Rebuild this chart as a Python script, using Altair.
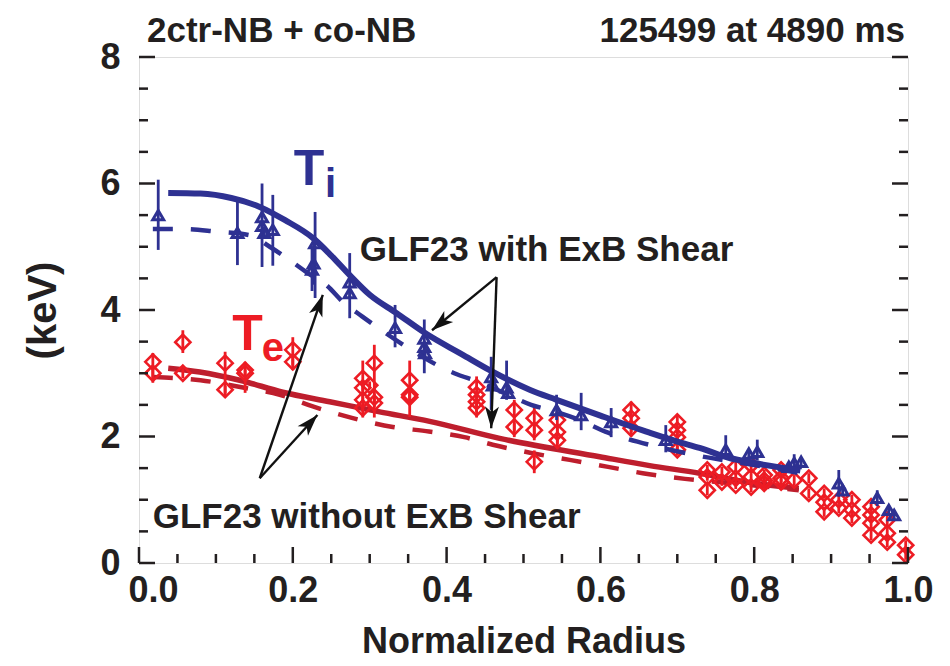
import math
import altair as alt
import pandas as pd

# ---------------- data ----------------
# Ti measurements (normalized radius, keV, error low, error high)
ti_x = [0.025, 0.128, 0.160, 0.160, 0.163, 0.174, 0.229, 0.227, 0.225, 0.274, 0.274,
        0.333, 0.371, 0.371, 0.372, 0.458, 0.460, 0.478, 0.480, 0.543, 0.575, 0.614,
        0.685, 0.763, 0.793, 0.804, 0.845, 0.852, 0.861, 0.910, 0.915, 0.960, 0.975, 0.982]
ti_y = [5.50, 5.22, 5.47, 5.33, 5.22, 5.27, 5.06, 4.74, 4.64, 4.44, 4.27,
        3.72, 3.55, 3.42, 3.32, 2.94, 2.81, 2.78, 2.69, 2.42, 2.34, 2.23,
        1.95, 1.79, 1.73, 1.76, 1.52, 1.58, 1.60, 1.26, 1.15, 1.03, 0.84, 0.76]
ti_lo = [4.95, 4.71, 4.68, 5.25, 5.15, 4.70, 4.19, 4.40, 4.30, 3.87, 4.20,
         3.41, 3.00, 3.35, 3.25, 2.42, 2.74, 2.58, 2.62, 2.26, 2.10, 1.99,
         1.75, 1.68, 1.66, 1.62, 1.45, 1.45, 1.53, 1.05, 1.08, 0.90, 0.77, 0.69]
ti_hi = [6.06, 5.71, 6.00, 5.40, 5.29, 5.82, 5.55, 5.10, 5.00, 4.90, 4.34,
         4.08, 3.85, 3.49, 3.39, 3.26, 2.88, 3.20, 2.76, 2.66, 2.69, 2.45,
         2.18, 2.02, 1.80, 1.95, 1.59, 1.72, 1.67, 1.47, 1.22, 1.15, 0.91, 0.83]

# Te measurements
te_x = [0.018, 0.018, 0.057, 0.057, 0.112, 0.112, 0.138, 0.138, 0.200, 0.200,
        0.291, 0.291, 0.291, 0.291, 0.300, 0.306, 0.306, 0.306,
        0.352, 0.352, 0.352, 0.439, 0.439, 0.439, 0.439, 0.488, 0.488,
        0.514, 0.514, 0.514, 0.544, 0.544, 0.544, 0.640, 0.640, 0.640,
        0.700, 0.700, 0.700, 0.700, 0.739, 0.739, 0.739, 0.758, 0.758,
        0.776, 0.776, 0.776, 0.796, 0.796, 0.796, 0.813, 0.813, 0.813,
        0.835, 0.835, 0.835, 0.852, 0.871, 0.871, 0.891, 0.891, 0.891,
        0.910, 0.910, 0.927, 0.927, 0.927, 0.952, 0.952, 0.952, 0.952,
        0.973, 0.973, 0.973, 0.997, 0.997]
te_y = [3.18, 3.00, 3.49, 3.00, 3.16, 2.74, 3.05, 3.00, 3.37, 3.18,
        2.92, 2.77, 2.58, 2.45, 2.81, 3.16, 2.62, 2.53,
        2.89, 2.66, 2.62, 2.78, 2.66, 2.55, 2.45, 2.42, 2.15,
        2.29, 2.10, 1.60, 2.26, 2.07, 1.94, 2.42, 2.29, 2.13,
        2.23, 2.10, 1.99, 1.79, 1.47, 1.36, 1.15, 1.44, 1.28,
        1.52, 1.34, 1.23, 1.55, 1.36, 1.20, 1.39, 1.31, 1.26,
        1.47, 1.34, 1.28, 1.31, 1.34, 1.10, 1.10, 0.96, 0.81,
        1.00, 0.87, 1.00, 0.84, 0.71, 0.89, 0.76, 0.63, 0.44,
        0.68, 0.47, 0.33, 0.28, 0.13]
te_lo = [2.85, 2.92, 3.32, 2.92, 2.62, 2.68, 2.69, 2.94, 3.05, 3.12,
         2.30, 2.71, 2.52, 2.39, 2.75, 2.30, 2.56, 2.47,
         2.31, 2.60, 2.56, 2.30, 2.60, 2.49, 2.39, 1.99, 2.09,
         1.94, 2.04, 1.42, 1.81, 2.01, 1.88, 2.00, 2.23, 2.07,
         1.70, 2.04, 1.93, 1.73, 1.39, 1.30, 1.07, 1.36, 1.22,
         1.44, 1.28, 1.17, 1.47, 1.30, 1.12, 1.31, 1.25, 1.20,
         1.39, 1.28, 1.22, 1.23, 1.26, 1.02, 1.02, 0.90, 0.73,
         0.92, 0.79, 0.92, 0.78, 0.63, 0.81, 0.70, 0.55, 0.36,
         0.60, 0.39, 0.25, 0.20, 0.05]
te_hi = [3.32, 3.08, 3.68, 3.08, 3.34, 2.80, 3.18, 3.06, 3.57, 3.24,
         3.20, 2.83, 2.64, 2.51, 2.87, 3.45, 2.68, 2.59,
         3.20, 2.72, 2.68, 2.95, 2.72, 2.61, 2.51, 2.58, 2.21,
         2.47, 2.16, 1.78, 2.38, 2.13, 2.00, 2.55, 2.35, 2.19,
         2.35, 2.16, 2.05, 1.85, 1.55, 1.42, 1.23, 1.52, 1.34,
         1.60, 1.40, 1.29, 1.63, 1.42, 1.28, 1.47, 1.37, 1.32,
         1.55, 1.40, 1.34, 1.39, 1.42, 1.18, 1.18, 1.02, 0.89,
         1.08, 0.93, 1.08, 0.90, 0.79, 0.97, 0.82, 0.71, 0.52,
         0.76, 0.55, 0.41, 0.36, 0.21]

# GLF23 model curves
ti_with_x = [0.038, 0.08, 0.12, 0.157, 0.19, 0.226, 0.25, 0.274, 0.30, 0.335, 0.374,
             0.42, 0.456, 0.508, 0.543, 0.60, 0.664, 0.70, 0.729, 0.768, 0.80, 0.86]
ti_with_y = [5.85, 5.84, 5.77, 5.63, 5.42, 5.14, 4.86, 4.55, 4.24, 3.95, 3.62,
             3.30, 3.05, 2.74, 2.58, 2.33, 2.06, 1.92, 1.82, 1.66, 1.58, 1.46]
ti_without_x = [0.018, 0.06, 0.10, 0.145, 0.17, 0.19, 0.22, 0.245, 0.265, 0.29, 0.313,
                0.35, 0.38, 0.41, 0.443, 0.48, 0.51, 0.54, 0.573, 0.61, 0.63, 0.67,
                0.73, 0.80, 0.86]
ti_without_y = [5.28, 5.28, 5.24, 5.18, 5.00, 4.84, 4.58, 4.38, 4.13, 3.90, 3.70,
                3.40, 3.18, 3.00, 2.86, 2.66, 2.50, 2.40, 2.26, 2.06, 1.98, 1.85,
                1.69, 1.55, 1.42]
te_with_x = [0.038, 0.079, 0.131, 0.187, 0.248, 0.313, 0.378, 0.469, 0.599, 0.664,
             0.729, 0.79, 0.858]
te_with_y = [3.08, 3.02, 2.89, 2.70, 2.55, 2.39, 2.24, 1.97, 1.68, 1.54,
             1.42, 1.28, 1.18]
te_without_x = [0.018, 0.08, 0.137, 0.183, 0.225, 0.278, 0.33, 0.377, 0.423, 0.46,
                0.51, 0.56, 0.61, 0.655, 0.71, 0.78, 0.858]
te_without_y = [2.94, 2.89, 2.77, 2.66, 2.48, 2.29, 2.15, 2.08, 1.99, 1.87,
                1.74, 1.63, 1.52, 1.42, 1.33, 1.25, 1.15]

# annotation arrows (start x, start y, end x, end y) in data units
arrow_x1 = [0.465, 0.465, 0.157, 0.157]
arrow_y1 = [4.52, 4.52, 1.34, 1.34]
arrow_x2 = [0.381, 0.458, 0.239, 0.232]
arrow_y2 = [3.68, 2.13, 4.24, 2.34]

# axis ticks / labels
x_major = [0.0, 0.2, 0.4, 0.6, 0.8, 1.0]
x_minor = [0.05, 0.1, 0.15, 0.25, 0.3, 0.35, 0.45, 0.5, 0.55, 0.65, 0.7, 0.75,
           0.85, 0.9, 0.95]
y_major = [0, 2, 4, 6, 8]
y_minor = [0.5, 1, 1.5, 2.5, 3, 3.5, 4.5, 5, 5.5, 6.5, 7, 7.5]

title_left = "2ctr-NB + co-NB"
title_right = "125499 at 4890 ms"
label_with = "GLF23 with ExB Shear"
label_without = "GLF23 without ExB Shear"

# ---------------- chart ----------------
W, H = 769, 506
FONT = "Liberation Sans, Arial, sans-serif"
INK = "#231F20"
BLUE = "#2E3192"
RED_PT = "#ED1C24"
RED_LN = "#BE1E2D"

xs = alt.Scale(domain=[0, 1], nice=False, zero=False)
ys = alt.Scale(domain=[0, 8], nice=False, zero=False)

ti = pd.DataFrame({"x": ti_x, "y": ti_y, "lo": ti_lo, "hi": ti_hi})
te = pd.DataFrame({"x": te_x, "y": te_y, "lo": te_lo, "hi": te_hi})

def curve(xv, yv, color, width, dash=None):
    df = pd.DataFrame({"x": xv, "y": yv})
    kw = dict(color=color, strokeWidth=width, strokeCap="butt", interpolate="monotone")
    if dash:
        kw["strokeDash"] = dash
    return alt.Chart(df).mark_line(**kw).encode(
        x=alt.X("x:Q", scale=xs), y=alt.Y("y:Q", scale=ys))

base_axes = alt.Chart(pd.DataFrame({"x": [0.0], "y": [0.0]})).mark_point(opacity=0).encode(
    x=alt.X("x:Q", scale=xs, title="Normalized Radius",
            axis=alt.Axis(values=x_major, format=".1f", ticks=False, domain=False, grid=False,
                          labelFlush=False,
                          labelFont=FONT, labelFontSize=36, labelFontWeight="bold",
                          labelColor=INK, labelPadding=10,
                          labelOffset=alt.condition("datum.value == 0", alt.value(14), alt.value(0)),
                          titleFont=FONT, titleFontSize=36, titleFontWeight="bold",
                          titleColor=INK, titlePadding=16)),
    y=alt.Y("y:Q", scale=ys, title="(keV)",
            axis=alt.Axis(values=y_major, format="d", ticks=False, domain=False, grid=False,
                          labelFont=FONT, labelFontSize=36, labelFontWeight="bold",
                          labelColor=INK, labelPadding=19,
                          titleFont=FONT, titleFontSize=40, titleFontWeight="bold",
                          titleColor=INK, titlePadding=36)),
)

def xticks(vals, length):
    df = pd.DataFrame({"x": vals})
    return alt.Chart(df).mark_rule(color=INK, strokeWidth=2.5).encode(
        x=alt.X("x:Q", scale=xs), y=alt.value(H), y2=alt.value(H - length))

def yticks(vals, length, right=False):
    df = pd.DataFrame({"y": vals})
    if right:
        return alt.Chart(df).mark_rule(color=INK, strokeWidth=2.5).encode(
            y=alt.Y("y:Q", scale=ys), x=alt.value(W), x2=alt.value(W - length))
    return alt.Chart(df).mark_rule(color=INK, strokeWidth=2.5).encode(
        y=alt.Y("y:Q", scale=ys), x=alt.value(0), x2=alt.value(length))

ti_err = alt.Chart(ti).mark_rule(color=BLUE, strokeWidth=2.8).encode(
    x=alt.X("x:Q", scale=xs), y=alt.Y("lo:Q", scale=ys), y2="hi:Q")
ti_pts = alt.Chart(ti).mark_point(shape="triangle-up", filled=False, color=BLUE,
                                  strokeWidth=3, size=120, opacity=1).encode(
    x=alt.X("x:Q", scale=xs), y=alt.Y("y:Q", scale=ys))
te_err = alt.Chart(te).mark_rule(color=RED_PT, strokeWidth=2.8).encode(
    x=alt.X("x:Q", scale=xs), y=alt.Y("lo:Q", scale=ys), y2="hi:Q")
te_pts = alt.Chart(te).mark_point(shape="diamond", filled=False, color=RED_PT,
                                  strokeWidth=2.6, size=230, opacity=1).encode(
    x=alt.X("x:Q", scale=xs), y=alt.Y("y:Q", scale=ys))

# arrows
px_per_x = W / 1.0
px_per_y = H / 8.0
angles = []
for a, b, c, d in zip(arrow_x1, arrow_y1, arrow_x2, arrow_y2):
    dx = (c - a) * px_per_x
    dy = -(d - b) * px_per_y
    angles.append(math.degrees(math.atan2(dx, -dy)) % 360)
arr = pd.DataFrame({"x1": arrow_x1, "y1": arrow_y1, "x2": arrow_x2, "y2": arrow_y2,
                    "ang": angles})
arrow_lines = alt.Chart(arr).mark_rule(color="#111111", strokeWidth=2.4).encode(
    x=alt.X("x1:Q", scale=xs), y=alt.Y("y1:Q", scale=ys), x2="x2:Q", y2="y2:Q")
arrow_heads = alt.Chart(arr).mark_point(
    shape="M0,0L0.55,1.7L0,1.25L-0.55,1.7Z", filled=True, color="#111111",
    size=650, opacity=1).encode(
    x=alt.X("x2:Q", scale=xs), y=alt.Y("y2:Q", scale=ys), angle=alt.Angle("ang:Q", scale=None))

# labels
lab = pd.DataFrame({"x": [0.53, 0.296], "y": [4.95, 0.73], "t": [label_with, label_without]})
labels = alt.Chart(lab).mark_text(font=FONT, fontSize=35, fontWeight="bold", color=INK,
                                  baseline="middle", align="center").encode(
    x=alt.X("x:Q", scale=xs), y=alt.Y("y:Q", scale=ys), text="t:N")

sym = pd.DataFrame({"x": [0.221, 0.141], "y": [6.21, 3.60], "t": ["T", "T"],
                    "c": ["Ti", "Te"]})
sub = pd.DataFrame({"x": [0.249, 0.174], "y": [5.97, 3.38], "t": ["i", "e"],
                    "c": ["Ti", "Te"]})
cscale = alt.Scale(domain=["Ti", "Te"], range=[BLUE, RED_PT])
sym_t = alt.Chart(sym).mark_text(font=FONT, fontSize=50, fontWeight="bold",
                                 baseline="middle", align="center").encode(
    x=alt.X("x:Q", scale=xs), y=alt.Y("y:Q", scale=ys), text="t:N",
    color=alt.Color("c:N", scale=cscale, legend=None))
sub_t = alt.Chart(sub).mark_text(font=FONT, fontSize=40, fontWeight="bold",
                                 baseline="middle", align="center").encode(
    x=alt.X("x:Q", scale=xs), y=alt.Y("y:Q", scale=ys), text="t:N",
    color=alt.Color("c:N", scale=cscale, legend=None))

top_left = alt.Chart(pd.DataFrame({"t": [title_left]})).mark_text(
    font=FONT, fontSize=35, fontWeight="bold", color=INK,
    align="left", baseline="alphabetic").encode(
    text="t:N", x=alt.value(8), y=alt.value(-15))
top_right = alt.Chart(pd.DataFrame({"t": [title_right]})).mark_text(
    font=FONT, fontSize=35, fontWeight="bold", color=INK,
    align="right", baseline="alphabetic").encode(
    text="t:N", x=alt.value(W - 3), y=alt.value(-15))

chart = alt.layer(
    base_axes,
    curve(te_without_x, te_without_y, RED_LN, 4.5, [20, 18]),
    curve(te_with_x, te_with_y, RED_LN, 5.5),
    te_err, te_pts,
    ti_err, ti_pts,
    curve(ti_without_x, ti_without_y, BLUE, 4.5, [20, 18]),
    curve(ti_with_x, ti_with_y, BLUE, 6),
    arrow_lines, arrow_heads,
    labels, sym_t, sub_t,
    top_left, top_right,
    xticks(x_major, 16), xticks(x_minor, 9),
    yticks(y_major, 16), yticks(y_minor, 9),
    yticks(y_major, 16, right=True), yticks(y_minor, 9, right=True),
).properties(
    width=W, height=H,
    autosize=alt.AutoSizeParams(type="none"),
    padding={"left": 131, "top": 49, "right": 30, "bottom": 102},
).configure_view(stroke=INK, strokeWidth=3).configure(background="white")

chart.save("out.html", embed_options={"renderer": "svg", "actions": False})
